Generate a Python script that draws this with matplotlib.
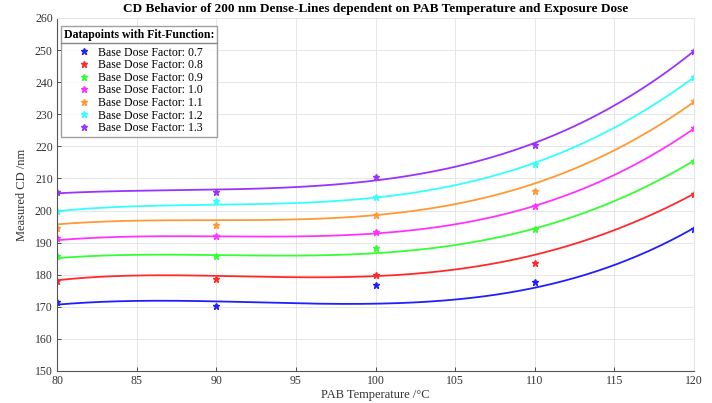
import matplotlib
matplotlib.use("Agg")
import matplotlib.pyplot as plt
from matplotlib.lines import Line2D
import numpy as np

plt.rcParams['font.family'] = ['Liberation Serif', 'DejaVu Serif']

# measured data points
temps = [80, 90, 100, 110, 120]
dose_factors = ["0.7", "0.8", "0.9", "1.0", "1.1", "1.2", "1.3"]
cd_07 = [171.4, 170.2, 176.8, 177.8, 194.4]
cd_08 = [178.1, 178.7, 180.0, 183.6, 205.2]
cd_09 = [185.8, 185.8, 188.3, 194.2, 215.4]
cd_10 = [191.3, 192.1, 193.3, 201.4, 225.7]
cd_11 = [194.5, 195.6, 198.6, 206.0, 234.2]
cd_12 = [199.9, 203.1, 204.2, 214.4, 241.5]
cd_13 = [205.7, 205.7, 210.4, 220.4, 249.6]

# fit-function values
fit_temps = [80, 85, 90, 95, 100, 105, 110, 115, 120]
fit_07 = [170.7, 171.8, 171.7, 171.1, 171.0, 172.4, 175.6, 183.3, 194.5]
fit_08 = [178.3, 179.7, 179.6, 179.4, 179.5, 181.5, 186.3, 193.9, 205.2]
fit_09 = [185.2, 186.1, 186.1, 186.1, 186.8, 189.0, 194.4, 203.1, 215.5]
fit_10 = [190.8, 191.8, 192.0, 192.1, 192.6, 195.9, 201.3, 211.2, 225.5]
fit_11 = [195.7, 196.8, 197.1, 197.3, 198.2, 202.3, 208.5, 218.6, 233.9]
fit_12 = [199.8, 201.3, 201.8, 202.4, 204.0, 207.9, 214.8, 225.9, 241.5]
fit_13 = [205.4, 206.1, 206.6, 207.2, 209.5, 213.8, 220.6, 233.1, 249.6]

colors = ["#1f1fff", "#ff2b2b", "#33ff33", "#ff33ff", "#ff9933", "#33ffff", "#9933ff"]

points = [cd_07, cd_08, cd_09, cd_10, cd_11, cd_12, cd_13]
fits = [fit_07, fit_08, fit_09, fit_10, fit_11, fit_12, fit_13]

fig = plt.figure(figsize=(7.12, 4.03), dpi=100)
ax = fig.add_axes([57 / 712, 1 - 371 / 403, 637 / 712, 353 / 403])

t_fine = np.linspace(80, 120, 300)
for pts, fv, c in zip(points, fits, colors):
    coef = np.polyfit(fit_temps, fv, 4)
    ax.plot(t_fine, np.polyval(coef, t_fine), color=c, lw=1.3)
    ax.plot(temps, pts, ls="none", marker="*", ms=4.5, color=c)

ax.set_xlim(80, 120)
ax.set_ylim(150, 260)
ax.set_xticks(np.arange(80, 121, 5))
ax.set_yticks(np.arange(150, 261, 10))
ax.grid(True, color="#e6e6e6", lw=0.7)
ax.set_axisbelow(True)
ax.tick_params(direction="in", length=3, labelsize=8.5, colors="#333333", width=0.6, pad=3)
for s in ["top", "right"]:
    ax.spines[s].set_color("#e6e6e6")
for s in ["left", "bottom"]:
    ax.spines[s].set_color("#555555")
    ax.spines[s].set_linewidth(0.8)

ax.set_xlabel("PAB Temperature /°C", fontsize=9, color="#333333", labelpad=1)
ax.set_ylabel("Measured CD /nm", fontsize=9, color="#333333", labelpad=5)
ax.set_title("CD Behavior of 200 nm Dense-Lines dependent on PAB Temperature and Exposure Dose",
             fontsize=9.5, fontweight="bold", pad=4)

handles = [Line2D([], [], ls="none", marker="*", ms=4.5, color=c) for c in colors]
labels = [f"Base Dose Factor: {d}" for d in dose_factors]
leg = ax.legend(handles, labels, loc="upper left", bbox_to_anchor=(0.006, 0.977),
                title="Datapoints with Fit-Function:", fontsize=8.5,
                title_fontproperties={"weight": "bold", "size": 8.5},
                frameon=True, fancybox=False, edgecolor="#888888",
                handletextpad=0.4, labelspacing=0.05, borderpad=0.25,
                handlelength=1.5, borderaxespad=0)
leg.get_frame().set_linewidth(1.0)
leg._legend_box.sep = 4

fig.canvas.draw()
# separator line under the legend title
bb = leg.get_window_extent()
tb = leg.get_title().get_window_extent()
ysep = tb.y0 - 2
fig.add_artist(Line2D([bb.x0 / 712, bb.x1 / 712], [ysep / 403, ysep / 403],
                      color="#888888", lw=1.0, transform=fig.transFigure))

fig.savefig("out.png", dpi=100)
